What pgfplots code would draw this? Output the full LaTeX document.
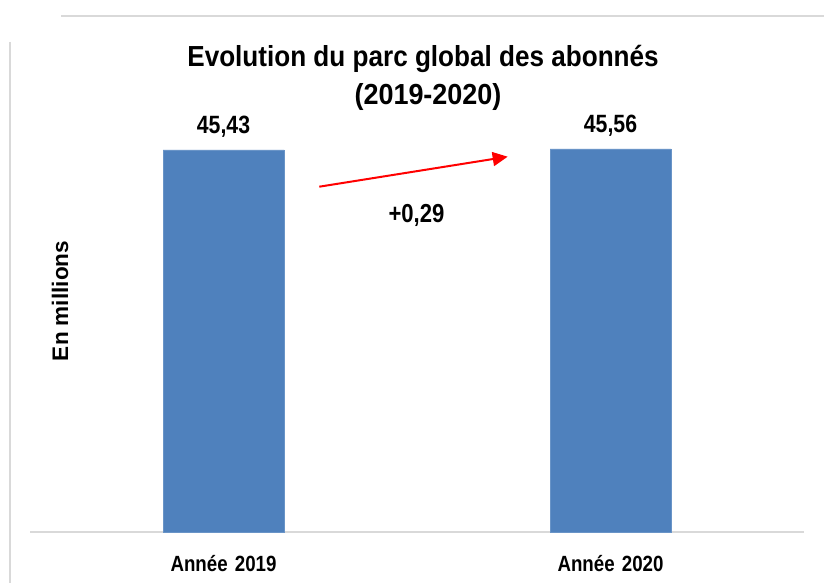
\documentclass[border=0pt]{standalone}
\usepackage{fontspec}
\setmainfont{Liberation Sans}
\newfontfamily\nar[FakeStretch=0.85]{Liberation Sans}
\newfontfamily\tit[FakeStretch=0.93]{Liberation Sans}
\newfontfamily\titb[FakeStretch=0.90]{Liberation Sans}
\usepackage{pgfplots}
\pgfplotsset{compat=1.18}
\usetikzlibrary{arrows.meta}
\definecolor{barblue}{HTML}{4F81BD}
\definecolor{lgray}{HTML}{D9D9D9}
\begin{document}
\begin{tikzpicture}
\useasboundingbox (0,0) rectangle (824pt,583pt);
\draw[lgray, line width=2pt] (61pt,567.3pt) -- (824pt,567.3pt);
\draw[lgray, line width=2pt] (10pt,541pt) -- (10pt,0pt);
\begin{axis}[
  at={(30pt,51pt)}, anchor=south west,
  scale only axis, width=774pt, height=504.6pt,
  ybar, bar width=121pt,
  xmin=-0.5, xmax=1.5, ymin=0, ymax=60,
  axis x line*=bottom, axis y line=none,
  x axis line style={lgray, line width=2pt, -},
  xtick={0,1}, xticklabels={Ann\'ee\kern2pt\ 2019, Ann\'ee\kern2pt\ 2020},
  major tick length=0pt, ytick=\empty,
  xticklabel style={font=\nar\bfseries\fontsize{22}{26}\selectfont, anchor=base, yshift=-40pt, inner sep=0pt},
  /pgf/number format/assume math mode=true,
  /pgf/number format/use comma,
  /pgf/number format/fixed,
  /pgf/number format/fixed zerofill,
  /pgf/number format/precision=2,
  nodes near coords,
  nodes near coords style={font=\nar\bfseries\fontsize{25}{30}\selectfont, anchor=base, inner sep=0pt, yshift=16pt},
  clip=false,
]
\addplot[fill=barblue, draw=barblue!85!white] coordinates {(0,45.43) (1,45.56)};
\end{axis}
\node[anchor=base, inner sep=0pt, font=\titb\bfseries\fontsize{29}{35}\selectfont] at (423pt,516.3pt) {Evolution du parc global des abonnés};
\node[anchor=base, inner sep=0pt, font=\tit\bfseries\fontsize{29}{35}\selectfont] at (428pt,478.7pt) {(2019-2020)};
\node[rotate=90, anchor=base, inner sep=0pt, font=\bfseries\fontsize{22.5}{26}\selectfont] at (68pt,282pt) {En millions};
\draw[red, line width=2pt, -{Triangle[length=15pt,width=14pt]}] (319.3pt,396.3pt) -- (507.7pt,426.3pt);
\node[anchor=base, inner sep=0pt, font=\nar\bfseries\fontsize{26}{30}\selectfont] at (416.5pt,360.3pt) {+0,29};
\end{tikzpicture}
\end{document}
